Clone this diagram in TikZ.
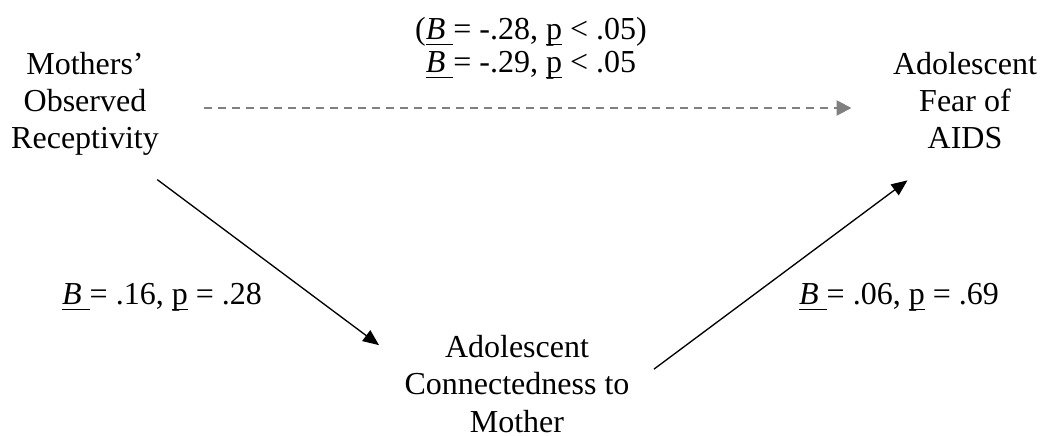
\documentclass[tikz,border=0pt]{standalone}
\usepackage{fontspec}
\setmainfont{Liberation Serif}
\usetikzlibrary{arrows.meta}
\newcommand{\ulbox}[1]{\setbox0=\hbox{#1}\rlap{\rule[-2.2pt]{\wd0}{0.5pt}}\box0}
\newcommand{\ulB}{\ulbox{\textit{B}\ }}
\newcommand{\ulp}{\ulbox{p}}

\begin{document}
\begin{tikzpicture}[x=0.375pt, y=-0.375pt,
        var/.style={align=center, inner sep=0pt, font=\fontsize{12}{13.9}\selectfont},
        stat/.style={align=center, inner sep=0pt, font=\fontsize{12}{12.5}\selectfont},
        arr/.style={line width=0.5pt, -{Triangle[length=6pt, width=5pt]}},
        darr/.style={line width=1pt, draw=gray, dash pattern=on 3pt off 2.25pt, -{Triangle[length=5.6pt, width=5.6pt]}}]
        \useasboundingbox (0,0) rectangle (1041,436);
        \node[var] (mor) at (85,103.5) {Mothers’\\Observed\\Receptivity};
        \node[var] (fear) at (965,100.5) {Adolescent\\Fear of\\AIDS};
        \node[var] (con) at (517,384) {Adolescent\\Connectedness to\\Mother};

        \node[stat] (direct) at (531,48) {(\ulB= -.28, \ulp{} < .05)\\\ulB= -.29, \ulp{} < .05};
        \node[stat, anchor=base] (apath) at (162,304) {\ulB= .16, \ulp{} = .28};
        \node[stat, anchor=base] (bpath) at (899,304) {\ulB= .06, \ulp{} = .69};

        \draw[darr] ([shift={(45,4.5)}]mor.east) -- ([shift={(-41,7.5)}]fear.west);
        \draw[arr] ([shift={(-2,24)}]mor.south east) -- ([shift={(-25,10)}]con.north west);
        \draw[arr] ([shift={(24,34)}]con.north east) -- ([shift={(15,31)}]fear.south west);
    \end{tikzpicture}
\end{document}
